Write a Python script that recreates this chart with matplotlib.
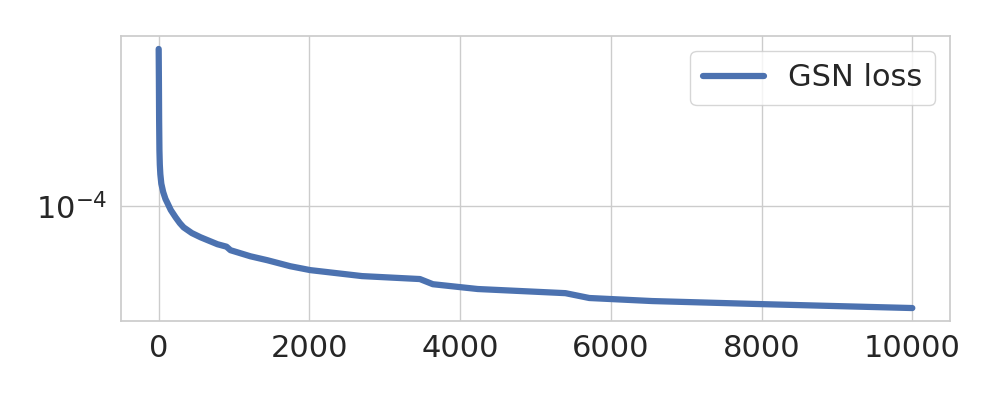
import matplotlib
matplotlib.use("Agg")
import matplotlib.pyplot as plt
import seaborn as sns

sns.set_theme(style="whitegrid", font_scale=2)

iterations = [0, 3, 6, 10, 15, 22, 35, 60, 90, 119, 160, 225, 280, 331, 440,
              556, 780, 900, 952, 1217, 1442, 1746, 2011, 2698, 3466, 3638,
              4233, 5397, 5714, 6548, 7910, 9008, 10000]
gsn_loss = [6.17e-4, 4.27e-4, 2.69e-4, 1.905e-4, 1.62e-4, 1.45e-4, 1.30e-4,
            1.18e-4, 1.09e-4, 1.035e-4, 0.96e-4, 0.881e-4, 0.825e-4, 0.785e-4,
            0.735e-4, 0.70e-4, 0.646e-4, 0.628e-4, 0.603e-4, 0.562e-4,
            0.537e-4, 0.501e-4, 0.479e-4, 0.447e-4, 0.432e-4, 0.407e-4,
            0.385e-4, 0.367e-4, 0.347e-4, 0.335e-4, 0.324e-4, 0.316e-4,
            0.309e-4]
label = "GSN loss"

fig, ax = plt.subplots(figsize=(10, 4), dpi=100)
fig.subplots_adjust(left=0.121, right=0.95, bottom=0.1975, top=0.91)
ax.plot(iterations, gsn_loss, color="#4c72b0", lw=4.5, label=label)
ax.set_yscale("log")
ax.legend(loc="upper right")
fig.savefig("out.png", dpi=100)
